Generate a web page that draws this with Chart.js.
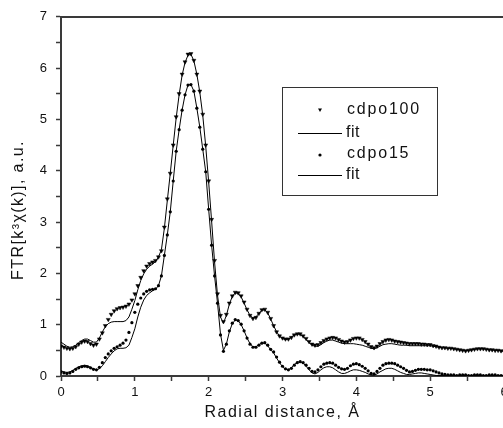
<!DOCTYPE html>
<html>
<head>
<meta charset="utf-8">
<script src="https://cdn.jsdelivr.net/npm/chart.js@4.4.1/dist/chart.umd.min.js"></script>
<style>
  html, body { margin: 0; padding: 0; background: #fff; overflow: hidden; }
  #wrap { width: 512px; height: 428px; }
</style>
</head>
<body>
<div id="wrap"><canvas id="ftChart" width="512" height="428"></canvas></div>
<script>
// radial grid of the Fourier transform: R_START, R_START + R_STEP, ... (one value per row entry below)
const R_START = 0;
const R_STEP = 0.04;

// cdpo100, measured (rows = 0-0.96, 1-1.96, ... 5-5.96, 6)
const cdpo100 = [
  0.58,0.56,0.54,0.53,0.54,0.57,0.62,0.66,0.68,0.67,0.63,0.60,0.62,0.72,0.84,0.98,1.10,1.20,1.27,1.31,1.33,1.34,1.36,1.40,1.48,
  1.60,1.76,1.92,2.05,2.14,2.19,2.22,2.25,2.32,2.44,2.90,3.45,3.95,4.50,5.05,5.50,5.88,6.12,6.27,6.28,6.15,5.88,5.55,5.10,4.50,
  3.80,3.05,2.25,1.60,1.18,1.06,1.20,1.42,1.56,1.63,1.62,1.56,1.44,1.30,1.18,1.12,1.14,1.22,1.29,1.30,1.24,1.12,0.98,0.86,0.78,
  0.74,0.72,0.72,0.75,0.80,0.82,0.82,0.78,0.73,0.67,0.62,0.60,0.61,0.65,0.69,0.72,0.74,0.75,0.74,0.71,0.68,0.66,0.67,0.70,0.73,
  0.74,0.74,0.71,0.67,0.62,0.57,0.55,0.58,0.63,0.67,0.70,0.71,0.70,0.68,0.67,0.66,0.65,0.64,0.63,0.63,0.63,0.63,0.62,0.62,0.61,
  0.61,0.59,0.58,0.56,0.55,0.55,0.54,0.54,0.53,0.52,0.51,0.50,0.49,0.50,0.51,0.52,0.53,0.53,0.53,0.52,0.51,0.51,0.50,0.50,0.49,
  0.48
];

// fit to cdpo100
const fit100 = [
  0.66,0.62,0.58,0.56,0.57,0.60,0.65,0.69,0.72,0.72,0.69,0.66,0.66,0.74,0.86,0.96,1.02,1.05,1.06,1.06,1.06,1.06,1.08,1.15,1.30,
  1.47,1.68,1.86,1.99,2.08,2.14,2.18,2.23,2.32,2.46,2.88,3.42,3.95,4.50,5.03,5.48,5.86,6.11,6.25,6.27,6.14,5.88,5.53,5.08,4.48,
  3.78,3.02,2.22,1.57,1.15,1.03,1.18,1.40,1.55,1.62,1.61,1.54,1.42,1.29,1.18,1.13,1.15,1.22,1.28,1.29,1.23,1.11,0.98,0.86,0.78,
  0.73,0.71,0.72,0.76,0.80,0.82,0.81,0.77,0.71,0.65,0.60,0.58,0.58,0.61,0.65,0.68,0.70,0.70,0.68,0.66,0.64,0.63,0.63,0.63,0.63,
  0.62,0.61,0.60,0.58,0.56,0.54,0.53,0.55,0.58,0.61,0.62,0.63,0.63,0.62,0.61,0.60,0.60,0.60,0.59,0.59,0.59,0.59,0.59,0.59,0.59,
  0.59,0.58,0.57,0.56,0.55,0.55,0.54,0.54,0.53,0.52,0.51,0.50,0.49,0.50,0.51,0.52,0.53,0.53,0.53,0.52,0.51,0.51,0.50,0.50,0.49,
  0.48
];

// cdpo15, measured
const cdpo15 = [
  0.08,0.06,0.05,0.06,0.09,0.13,0.16,0.18,0.19,0.18,0.16,0.13,0.12,0.17,0.26,0.36,0.43,0.49,0.54,0.57,0.60,0.64,0.70,0.85,1.04,
  1.24,1.40,1.52,1.60,1.65,1.68,1.69,1.70,1.76,1.95,2.35,2.75,3.20,3.80,4.38,4.80,5.18,5.48,5.67,5.68,5.55,5.22,4.85,4.42,3.98,
  3.25,2.55,1.95,1.42,0.80,0.48,0.62,0.88,1.03,1.10,1.08,1.01,0.88,0.74,0.62,0.56,0.56,0.60,0.64,0.65,0.60,0.52,0.47,0.37,0.27,
  0.19,0.14,0.12,0.15,0.21,0.26,0.28,0.26,0.21,0.15,0.09,0.08,0.12,0.18,0.23,0.25,0.26,0.25,0.21,0.17,0.14,0.13,0.15,0.20,0.23,
  0.24,0.22,0.19,0.15,0.10,0.05,0.04,0.09,0.15,0.21,0.24,0.25,0.25,0.24,0.21,0.18,0.15,0.11,0.08,0.09,0.11,0.13,0.13,0.13,0.12,
  0.12,0.10,0.08,0.06,0.04,0.03,0.02,0.02,0.02,0.01,0.02,0.02,0.02,0.01,0.01,0.02,0.02,0.02,0.01,0.01,0.02,0.02,0.02,0.01,0.01,
  0.01
];

// fit to cdpo15
const fit15 = [
  0.10,0.08,0.07,0.08,0.11,0.15,0.18,0.20,0.21,0.20,0.17,0.14,0.12,0.14,0.20,0.28,0.36,0.43,0.49,0.53,0.54,0.54,0.55,0.60,0.75,
  0.92,1.15,1.34,1.48,1.57,1.62,1.66,1.69,1.76,1.95,2.35,2.75,3.20,3.80,4.38,4.80,5.18,5.48,5.67,5.68,5.55,5.22,4.85,4.42,3.98,
  3.25,2.55,1.95,1.42,0.82,0.50,0.62,0.86,1.02,1.09,1.08,1.00,0.88,0.74,0.63,0.57,0.57,0.61,0.64,0.64,0.59,0.51,0.45,0.35,0.26,
  0.18,0.13,0.12,0.16,0.22,0.27,0.28,0.25,0.19,0.12,0.06,0.04,0.07,0.12,0.16,0.18,0.18,0.16,0.12,0.08,0.05,0.05,0.07,0.10,0.12,
  0.12,0.11,0.09,0.07,0.04,0.02,0.02,0.04,0.08,0.11,0.14,0.15,0.15,0.13,0.10,0.07,0.05,0.03,0.03,0.04,0.05,0.06,0.06,0.05,0.04,
  0.03,0.02,0.01,0.01,0.01,0.01,0.01,0.01,0.01,0.01,0.01,0.01,0.01,0.01,0.01,0.01,0.01,0.01,0.01,0.01,0.01,0.01,0.01,0.01,0.01,
  0.01
];

const xTitle = 'Radial distance, Å';
const yTitle = 'FTR[k³χ(k)], a.u.';
const legendLabels = ['cdpo100', 'fit', 'cdpo15', 'fit'];

const toPoints = arr => arr.map((v, i) => ({ x: +(R_START + i * R_STEP).toFixed(2), y: v }));

const INK = '#111';
const AXIS = '#3a3a3a';
const FONT = '"Liberation Sans", Arial, sans-serif';

// axis titles and the boxed legend, drawn on top of the plot
const framePlugin = {
  id: 'framePlugin',
  afterDraw(chart) {
    const ctx = chart.ctx;
    const area = chart.chartArea;
    ctx.save();
    ctx.fillStyle = INK;
    ctx.font = '16px ' + FONT;
    ctx.letterSpacing = '1.5px';
    ctx.textAlign = 'center';
    ctx.textBaseline = 'middle';
    ctx.fillText(xTitle, (area.left + area.right) / 2, 413);

    ctx.save();
    ctx.translate(19, 210);
    ctx.rotate(-Math.PI / 2);
    ctx.letterSpacing = '1.4px';
    ctx.fillText(yTitle, 0, 0);
    ctx.restore();

    // legend box
    const bx = 282.5, by = 87.5, bw = 155, bh = 108;
    ctx.strokeStyle = '#333';
    ctx.lineWidth = 1;
    ctx.strokeRect(bx, by, bw, bh);

    const rows = [110, 133, 154, 175];
    ctx.textAlign = 'left';
    chart.data.datasets.forEach((ds, i) => {
      const y = rows[i];
      if (ds.showLine) {
        ctx.beginPath();
        ctx.strokeStyle = ds.borderColor;
        ctx.lineWidth = 1;
        ctx.moveTo(298, y + 0.5);
        ctx.lineTo(342, y + 0.5);
        ctx.stroke();
      } else {
        ctx.fillStyle = ds.pointBackgroundColor;
        ctx.beginPath();
        if (ds.pointStyle === 'triangle') {
          ctx.moveTo(318, y - 1.5);
          ctx.lineTo(322, y - 1.5);
          ctx.lineTo(320, y + 2);
          ctx.closePath();
        } else {
          ctx.arc(320, y + 1, 1.6, 0, Math.PI * 2);
        }
        ctx.fill();
      }
      ctx.fillStyle = INK;
      ctx.letterSpacing = ds.showLine ? '0.5px' : '1.8px';
      ctx.fillText(legendLabels[i], ds.showLine ? 346 : 347, y);
    });
    ctx.restore();
  }
};

const ctx = document.getElementById('ftChart').getContext('2d');
const chart = new Chart(ctx, {
  type: 'scatter',
  data: {
    datasets: [
      {
        label: legendLabels[0],
        data: toPoints(cdpo100),
        showLine: false,
        pointStyle: 'triangle',
        rotation: 180,
        pointRadius: 2.3,
        pointBorderWidth: 0.5,
        pointBackgroundColor: '#000',
        pointBorderColor: '#000'
      },
      {
        label: legendLabels[1],
        data: toPoints(fit100),
        showLine: true,
        borderColor: '#000',
        borderWidth: 1,
        pointRadius: 0,
        tension: 0
      },
      {
        label: legendLabels[2],
        data: toPoints(cdpo15),
        showLine: false,
        pointStyle: 'circle',
        pointRadius: 1.6,
        pointBorderWidth: 0,
        pointBackgroundColor: '#000',
        pointBorderColor: '#000'
      },
      {
        label: legendLabels[3],
        data: toPoints(fit15),
        showLine: true,
        borderColor: '#000',
        borderWidth: 1,
        pointRadius: 0,
        tension: 0
      }
    ]
  },
  options: {
    responsive: false,
    animation: false,
    layout: { padding: { top: 15, right: 8, left: 0, bottom: 0 } },
    plugins: {
      legend: { display: false },
      tooltip: { enabled: false }
    },
    scales: {
      x: {
        type: 'linear',
        position: 'bottom',
        min: 0,
        max: 6,
        afterFit: s => { s.height = 52; },
        grid: { drawOnChartArea: false, tickLength: 5, tickColor: AXIS, tickWidth: 1.5 },
        border: { color: AXIS, width: 2 },
        ticks: {
          stepSize: 0.5,
          autoSkip: false,
          maxRotation: 0,
          padding: 4,
          color: INK,
          font: { family: FONT, size: 13 },
          callback: v => (v % 1 === 0 ? v : '')
        }
      },
      xTop: {
        type: 'linear',
        position: 'top',
        min: 0,
        max: 6,
        grid: { drawOnChartArea: false, drawTicks: false },
        border: { color: AXIS, width: 2 },
        ticks: { display: false }
      },
      y: {
        type: 'linear',
        position: 'left',
        min: 0,
        max: 7,
        afterFit: s => { s.width = 61; },
        grid: { drawOnChartArea: false, tickLength: 5, tickColor: AXIS, tickWidth: 1.5 },
        border: { color: AXIS, width: 2 },
        ticks: {
          stepSize: 0.5,
          autoSkip: false,
          padding: 9,
          color: INK,
          font: { family: FONT, size: 13 },
          callback: v => (v % 1 === 0 ? v : '')
        }
      }
    }
  },
  plugins: [framePlugin]
});
</script>
</body>
</html>
